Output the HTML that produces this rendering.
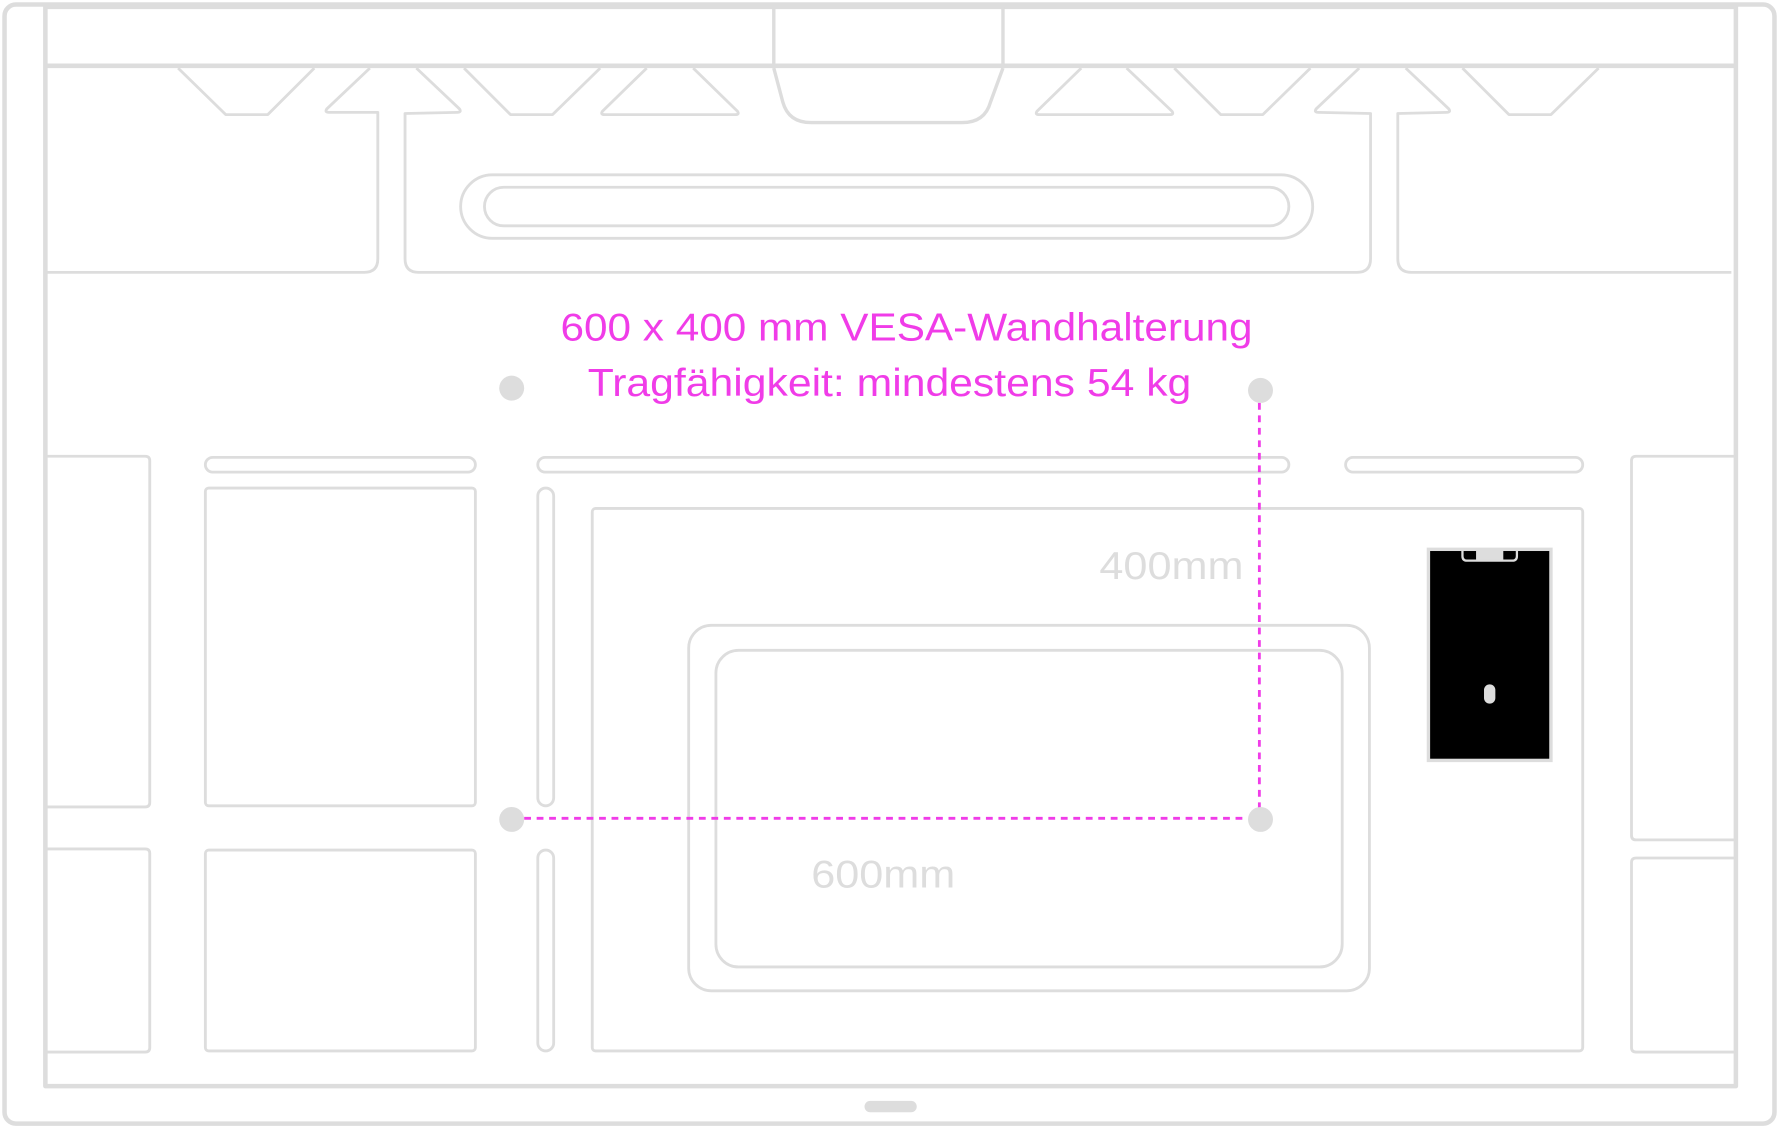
<!DOCTYPE html>
<html><head><meta charset="utf-8"><style>
html,body{margin:0;padding:0;background:#fff;}
svg{display:block;}
text{font-family:"Liberation Sans",sans-serif;}
</style></head><body>
<svg width="1779" height="1127" viewBox="0 0 1568 993" preserveAspectRatio="none" xmlns="http://www.w3.org/2000/svg">
<g fill="none" stroke="#dddddd" stroke-width="2.5" stroke-linejoin="round">
<rect x="4" y="4" width="1560" height="986" rx="10" stroke-width="4"/>
<rect x="40" y="6" width="1490" height="951" stroke-width="4"/>
<line x1="40" y1="58" x2="1530" y2="58" stroke-width="4"/>
<line x1="682" y1="6" x2="682" y2="58" stroke-width="3"/>
<line x1="884" y1="6" x2="884" y2="58" stroke-width="3"/>
<path d="M682 60 L690 90 Q695 108 715 108 L848 108 Q868 108 873 90 L884 60" stroke-width="3"/>
<path d="M157 60 L199 101 L236 101 L277 60"/>
<path d="M409 60 L450 101 L487 101 L529 60"/>
<path d="M1035 60 L1076 101 L1113 101 L1155 60"/>
<path d="M1289 60 L1330 101 L1367 101 L1409 60"/>
<path d="M570 60 L531 98 Q529 101 533 101 L648 101 Q652 101 650 98 L611 60"/>
<path d="M953 60 L914 98 Q912 101 916 101 L1031 101 Q1035 101 1033 98 L993 60"/>
<path d="M326 60 L288 96 Q286 99 290 99 L333 99 L333 228 Q333 240 321 240 L40 240"/>
<path d="M367 60 L405 96 Q407 99 403 99 L357 100 L357 228 Q357 240 369 240 L1196 240 Q1208 240 1208 228 L1208 100 L1162 99 Q1158 99 1160 96 L1198 60"/>
<path d="M1239 60 L1277 96 Q1279 99 1275 99 L1232 100 L1232 228 Q1232 240 1244 240 L1526 240"/>
<rect x="406" y="154" width="751" height="56" rx="28"/>
<rect x="427" y="165" width="709" height="34" rx="17"/>
<path d="M40 402 L128 402 Q132 402 132 406 L132 707 Q132 711 128 711 L40 711"/>
<path d="M40 748 L128 748 Q132 748 132 752 L132 923 Q132 927 128 927 L40 927"/>
<rect x="181" y="403" width="238" height="13" rx="6.5"/>
<rect x="474" y="403" width="662" height="13" rx="6.5"/>
<rect x="1186" y="403" width="209" height="13" rx="6.5"/>
<rect x="181" y="430" width="238" height="280" rx="3"/>
<rect x="181" y="749" width="238" height="177" rx="3"/>
<rect x="474" y="430" width="14" height="280" rx="7"/>
<rect x="474" y="749" width="14" height="177" rx="7"/>
<rect x="522" y="448" width="873" height="478" rx="3"/>
<rect x="607" y="551" width="600" height="322" rx="20"/>
<rect x="631" y="573" width="552" height="279" rx="20"/>
<path d="M1530 402 L1442 402 Q1438 402 1438 406 L1438 736 Q1438 740 1442 740 L1530 740"/>
<path d="M1530 756 L1442 756 Q1438 756 1438 760 L1438 923 Q1438 927 1442 927 L1530 927"/>
</g>
<rect x="1259" y="484" width="108" height="186" fill="#000" stroke="#dddddd" stroke-width="3"/>
<path d="M1289 485 L1289 490 Q1289 494 1293 494 L1333 494 Q1337 494 1337 490 L1337 485" fill="none" stroke="#dddddd" stroke-width="2"/>
<rect x="1301" y="483" width="24" height="10" fill="#dddddd"/>
<rect x="1308" y="603" width="10" height="17" rx="5" fill="#dddddd"/>
<rect x="762" y="970" width="46" height="10" rx="5" fill="#dddddd"/>
<g fill="none" stroke="#f03ce8" stroke-width="2.5" stroke-dasharray="6 5">
<line x1="1110" y1="355" x2="1110" y2="712"/>
<line x1="462" y1="721" x2="1100" y2="721"/>
</g>
<g fill="#dddddd">
<circle cx="451" cy="342" r="11"/>
<circle cx="1111" cy="344" r="11"/>
<circle cx="451" cy="722" r="11"/>
<circle cx="1111" cy="722" r="11"/>
</g>
<text x="494" y="300" font-size="34" fill="#f03ce8" textLength="610" lengthAdjust="spacingAndGlyphs">600 x 400 mm VESA-Wandhalterung</text>
<text x="518" y="349" font-size="34" fill="#f03ce8" textLength="532" lengthAdjust="spacingAndGlyphs">Tragfähigkeit: mindestens 54 kg</text>
<text x="969" y="510" font-size="34" fill="#dddddd" textLength="127" lengthAdjust="spacingAndGlyphs">400mm</text>
<text x="715" y="782" font-size="34" fill="#dddddd" textLength="127" lengthAdjust="spacingAndGlyphs">600mm</text>
</svg>
</body></html>
